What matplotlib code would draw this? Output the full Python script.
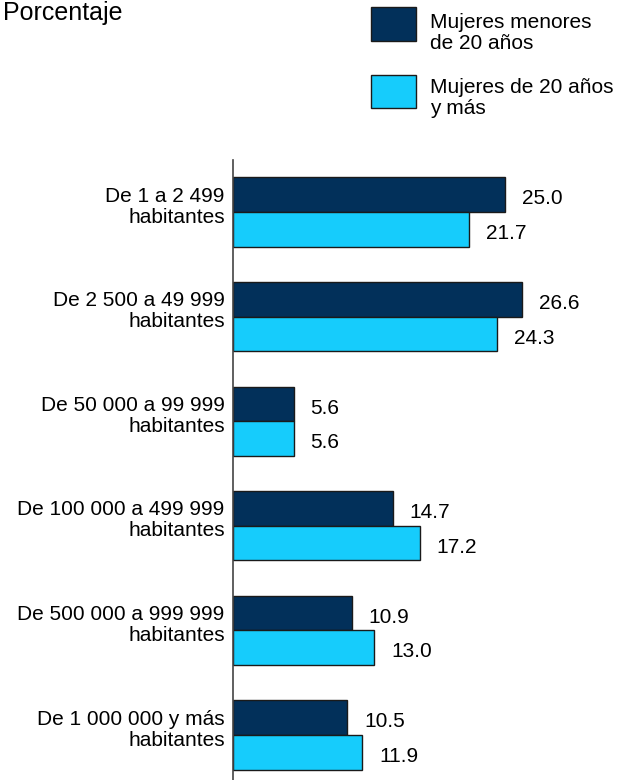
import matplotlib.pyplot as plt
from matplotlib.patches import Rectangle
from matplotlib.transforms import ScaledTranslation
import numpy as np

plt.rcParams['font.family'] = ['Liberation Sans', 'DejaVu Sans']

# datos
categorias = ["De 1 a 2 499\nhabitantes",
              "De 2 500 a 49 999\nhabitantes",
              "De 50 000 a 99 999\nhabitantes",
              "De 100 000 a 499 999\nhabitantes",
              "De 500 000 a 999 999\nhabitantes",
              "De 1 000 000 y más\nhabitantes"]
menores_20 = [25.0, 26.6, 5.6, 14.7, 10.9, 10.5]
de_20_mas = [21.7, 24.3, 5.6, 17.2, 13.0, 11.9]
series = ["Mujeres menores\nde 20 años", "Mujeres de 20 años\ny más"]

c_oscuro = "#02305a"
c_claro = "#16ccfc"

W, H = 628, 780
fig = plt.figure(figsize=(W / 100, H / 100), dpi=100)
ax = fig.add_axes([233 / W, 0, 1 - 233 / W, (H - 160) / H])

pos = np.arange(len(categorias))
alto = 0.33
b1 = ax.barh(pos - alto / 2, menores_20, height=alto, color=c_oscuro,
             edgecolor="#1a1a1a", linewidth=1)
b2 = ax.barh(pos + alto / 2, de_20_mas, height=alto, color=c_claro,
             edgecolor="#1a1a1a", linewidth=1)

for barras, vals in ((b1, menores_20), (b2, de_20_mas)):
    for b, v in zip(barras, vals):
        ax.annotate(f"{v:.1f}", (b.get_width(), b.get_y() + b.get_height() / 2),
                    xytext=(12, -3), textcoords="offset points",
                    ha="left", va="center", fontsize=15)

ax.set_xlim(0, (W - 233) / 10.88)
ax.set_ylim(5.43, -0.497)
ax.set_yticks(pos)
ax.set_yticklabels(categorias, fontsize=15, ha="right", linespacing=1.13)
ax.tick_params(axis="y", length=0, pad=6)
desp = ScaledTranslation(0, 6 / 72, fig.dpi_scale_trans)
for lab in ax.get_yticklabels():
    lab.set_transform(lab.get_transform() + desp)
ax.set_xticks([])
for s in ["top", "right", "bottom"]:
    ax.spines[s].set_visible(False)
ax.spines["left"].set_color("#444444")
ax.spines["left"].set_linewidth(1.2)

# leyenda manual
def px(x, y):
    return x / W, 1 - y / H

for (y0, y1), col, txt, ty in (((7, 41), c_oscuro, series[0], 33),
                               ((75, 108), c_claro, series[1], 98)):
    fig.add_artist(Rectangle(px(371, y1), 45 / W, (y1 - y0) / H,
                             facecolor=col, edgecolor="#1a1a1a", linewidth=1,
                             transform=fig.transFigure))
    fig.text(*px(430, ty), txt, fontsize=15, ha="left", va="center",
             linespacing=1.13)

fig.text(*px(3, 20), "Porcentaje", fontsize=18, ha="left", va="baseline")

fig.savefig("out.png", dpi=100)
